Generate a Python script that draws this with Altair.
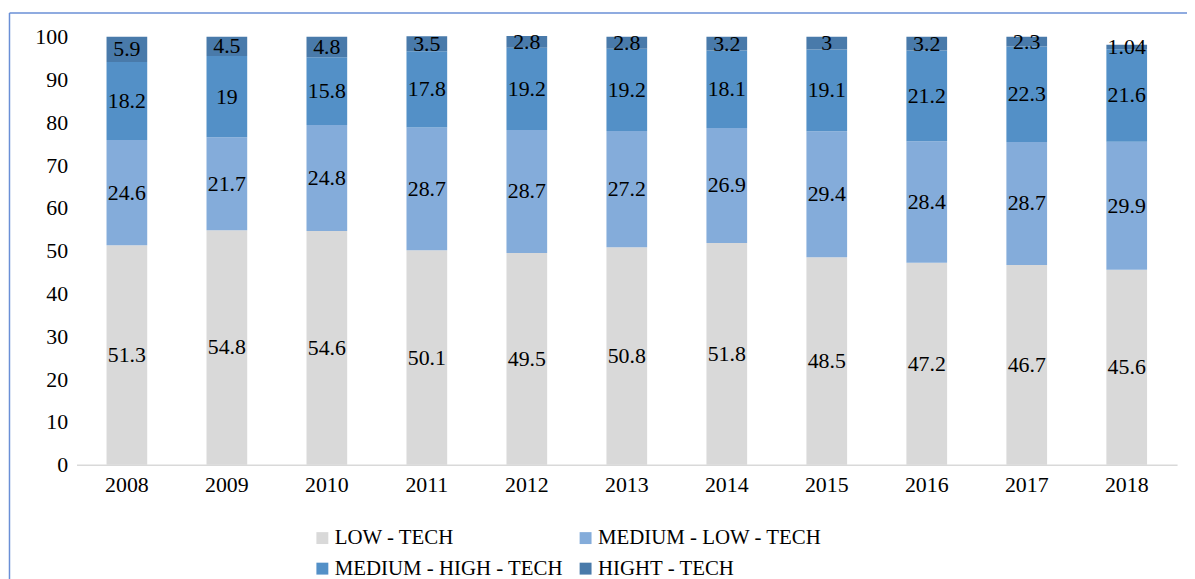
import altair as alt
import pandas as pd

years = ["2008", "2009", "2010", "2011", "2012", "2013", "2014", "2015", "2016", "2017", "2018"]
categories = ["LOW - TECH", "MEDIUM - LOW - TECH", "MEDIUM - HIGH - TECH", "HIGHT - TECH"]
low = [51.3, 54.8, 54.6, 50.1, 49.5, 50.8, 51.8, 48.5, 47.2, 46.7, 45.6]
med_low = [24.6, 21.7, 24.8, 28.7, 28.7, 27.2, 26.9, 29.4, 28.4, 28.7, 29.9]
med_high = [18.2, 19, 15.8, 17.8, 19.2, 19.2, 18.1, 19.1, 21.2, 22.3, 21.6]
high = [5.9, 4.5, 4.8, 3.5, 2.8, 2.8, 3.2, 3, 3.2, 2.3, 1.04]
colors = ["#d9d9d9", "#84acda", "#5390c7", "#497aaa"]

series = [low, med_low, med_high, high]
rows = []
for ci, (cat, vals) in enumerate(zip(categories, series)):
    for y, v in zip(years, vals):
        rows.append({"year": y, "category": cat, "order": ci, "value": v, "label": f"{v:g}"})
df = pd.DataFrame(rows)

FONT = "Liberation Serif"
FS = 22

base = alt.Chart(df).transform_stack(
    stack="value", groupby=["year"], sort=[alt.SortField("order", "ascending")], as_=["y0", "y1"]
).transform_calculate(mid="(datum.y0 + datum.y1) / 2")

x_enc = alt.X(
    "year:N", sort=years,
    scale=alt.Scale(paddingInner=0.593, paddingOuter=0.3),
    axis=alt.Axis(title=None, labelAngle=0, ticks=False, domainColor="#d9d9d9", domainWidth=1.5,
                  labelFont=FONT, labelFontSize=FS, labelColor="#000000", labelPadding=10, grid=False),
)

bars = base.mark_bar().encode(
    x=x_enc,
    y=alt.Y("y0:Q", scale=alt.Scale(domain=[0, 100], nice=False),
            axis=alt.Axis(title=None, values=list(range(0, 101, 10)), domain=False, ticks=False, grid=False,
                          labelFont=FONT, labelFontSize=FS, labelColor="#000000", labelPadding=9)),
    y2="y1:Q",
    color=alt.Color("category:N", scale=alt.Scale(domain=categories, range=colors),
                    legend=alt.Legend(title=None, orient="none", legendX=237, legendY=494, columns=2,
                                      direction="horizontal",
                                      symbolType="square", symbolSize=144, symbolStrokeWidth=0,
                                      labelFont=FONT, labelFontSize=21, labelColor="#000000",
                                      labelLimit=0, rowPadding=9, columnPadding=12, labelOffset=2)),
    order=alt.Order("order:Q"),
)

texts = base.mark_text(font=FONT, fontSize=FS, color="#000000", baseline="middle").encode(
    x=alt.X("year:N", sort=years),
    y=alt.Y("mid:Q"),
    text="label:N",
)

frame_df = pd.DataFrame({"k": [0]})
frame_left = alt.Chart(frame_df).mark_rule(color="#6a8fd6", strokeWidth=1.5).encode(
    x=alt.value(-67.5), y=alt.value(-24), y2=alt.value(600))
frame_top = alt.Chart(frame_df).mark_rule(color="#6a8fd6", strokeWidth=1.5).encode(
    x=alt.value(-67.5), x2=alt.value(1200), y=alt.value(-24))

chart = alt.layer(frame_left, frame_top, bars, texts).properties(
    width=1108, height=431,
    padding={"left": 69, "top": 27, "right": 10, "bottom": 113},
    autosize=alt.AutoSizeParams(type="none"),
).configure_view(stroke=None)

chart.save("out.html", embed_options={"renderer": "svg", "actions": False})
